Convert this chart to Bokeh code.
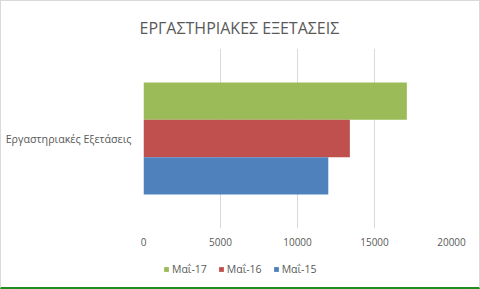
from bokeh.plotting import figure
from bokeh.models import FactorRange, FixedTicker, Legend, LegendItem, Title
from bokeh.layouts import column
from bokeh.transform import dodge
from bokeh.embed import file_html
from bokeh.resources import INLINE

category = ["Εργαστηριακές Εξετάσεις"]
series = ["Μαΐ-17", "Μαΐ-16", "Μαΐ-15"]
values_17 = [17100]
values_16 = [13400]
values_15 = [12000]
colors = ["#9BBB59", "#C0504D", "#4F81BD"]
x_ticks = [0, 5000, 10000, 15000, 20000]

FONT = "Open Sans"
GRAY = "#595959"
BORDER = "1px solid #D9D9D9"

p = figure(frame_width=306, frame_height=179, y_range=FactorRange(*category, range_padding=0),
           x_range=(0, 20000), output_backend="svg", toolbar_location=None,
           min_border_left=142, min_border_right=30, min_border_top=47, min_border_bottom=29)
p.styles = {"border-top": BORDER, "border-left": BORDER, "border-right": BORDER}

bar_h = 0.207
offsets = [bar_h, 0, -bar_h]
vals = [values_17, values_16, values_15]
for name, v, c, off in zip(series, vals, colors, offsets):
    p.hbar(y=dodge("cat", off, range=p.y_range), right="val", left=0, height=bar_h,
           color=c, line_color=None, source={"cat": category, "val": v})

p.title = Title(text="ΕΡΓΑΣΤΗΡΙΑΚΕΣ ΕΞΕΤΑΣΕΙΣ", align="left", offset=-4, standoff=20,
                text_font=FONT, text_font_size="16px", text_font_style="normal",
                text_color=GRAY)

for ax in (p.xaxis, p.yaxis):
    ax.axis_line_color = None
    ax.major_tick_line_color = None
    ax.minor_tick_line_color = None
    ax.major_tick_out = 0
    ax.major_tick_in = 0
    ax.minor_tick_out = 0
    ax.minor_tick_in = 0
    ax.major_label_text_font = FONT
    ax.major_label_text_color = GRAY

p.xaxis.ticker = FixedTicker(ticks=x_ticks)
p.xaxis.major_label_text_font_size = "10px"
p.xaxis.major_label_standoff = 9

p.yaxis.major_label_text_font_size = "10.7px"
p.yaxis.major_label_standoff = 12

p.xgrid.grid_line_color = "#D9D9D9"
p.ygrid.grid_line_color = None
p.outline_line_color = None

# Legend strip below the chart (its own small figure, bars kept out of view)
lg = figure(frame_width=478, frame_height=31, y_range=FactorRange(*category),
            x_range=(-2, -1), output_backend="svg", toolbar_location=None,
            x_axis_type=None, y_axis_type=None,
            min_border_left=0, min_border_right=0, min_border_top=0, min_border_bottom=0)
lg.styles = {"border-left": BORDER, "border-right": BORDER,
             "border-bottom": "2px solid #1E8C1E"}
lg.outline_line_color = None
lg.grid.visible = False
items = []
for name, v, c in zip(series, vals, colors):
    r = lg.hbar(y="cat", right="val", left=0, height=0.5, color=c, line_color=None,
                source={"cat": category, "val": v})
    items.append(LegendItem(label=name, renderers=[r]))

legend = Legend(items=items, orientation="horizontal", location=(162, 13),
                glyph_width=6, glyph_height=6,
                label_text_font=FONT, label_text_font_size="10.5px", label_text_color=GRAY,
                label_height=12, border_line_color=None, background_fill_alpha=0,
                spacing=11, label_standoff=3, padding=0, margin=0)
lg.add_layout(legend, "center")

layout = column(p, lg, spacing=0)
open("out.html", "w").write(file_html(layout, INLINE))
